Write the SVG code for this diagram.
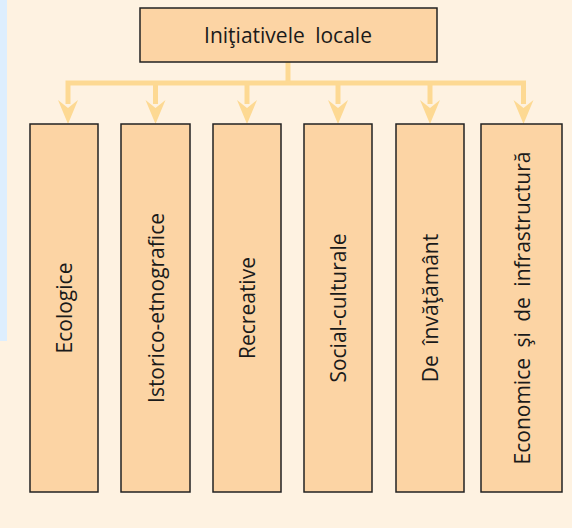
<svg xmlns="http://www.w3.org/2000/svg" width="572" height="528" viewBox="0 0 572 528">
<style>
.bg{fill:#fef2e1}
.box{fill:#fcd4a4;stroke:#222;stroke-width:1.5}
.lbl{font-family:"Open Sans","Noto Sans",sans-serif;font-size:21px;word-spacing:5px;fill:#1a1a1a;text-anchor:middle;dominant-baseline:central}
.wire{stroke:#fdd993;stroke-width:5;fill:none}
.head{fill:#fdd993}
</style>
<rect x="0" y="0" width="572" height="528" class="bg"/>
<rect x="0" y="0" width="7" height="341" fill="#ddeefe"/>
<g id="connectors">
<path class="wire" d="M288 62V83M65.5 83H526M68 83V104M155.5 83V104M247 83V104M338 83V104M430 83V104M523.5 83V104"/>
<polygon class="head" points="58,100 68,124 78,100 68,108"/>
<polygon class="head" points="145.5,100 155.5,124 165.5,100 155.5,108"/>
<polygon class="head" points="237,100 247,124 257,100 247,108"/>
<polygon class="head" points="328,100 338,124 348,100 338,108"/>
<polygon class="head" points="420,100 430,124 440,100 430,108"/>
<polygon class="head" points="513.5,100 523.5,124 533.5,100 523.5,108"/>
</g>
<g id="root">
<rect class="box" x="140" y="8" width="297" height="54"/>
<text class="lbl" x="288" y="35">Iniţiativele locale</text>
</g>
<g id="ecologice">
<rect class="box" x="30" y="124" width="68" height="368"/>
<text class="lbl" transform="translate(64,308) rotate(-90)">Ecologice</text>
</g>
<g id="istorico">
<rect class="box" x="121" y="124" width="69" height="368"/>
<text class="lbl" transform="translate(155.5,308) rotate(-90)">Istorico-etnografice</text>
</g>
<g id="recreative">
<rect class="box" x="213" y="124" width="68" height="368"/>
<text class="lbl" transform="translate(247,308) rotate(-90)">Recreative</text>
</g>
<g id="social">
<rect class="box" x="304" y="124" width="68" height="368"/>
<text class="lbl" transform="translate(338,308) rotate(-90)">Social-culturale</text>
</g>
<g id="invatamant">
<rect class="box" x="396" y="124" width="68" height="368"/>
<text class="lbl" transform="translate(430,308) rotate(-90)">De învăţământ</text>
</g>
<g id="economice">
<rect class="box" x="481" y="124" width="81" height="368"/>
<text class="lbl" transform="translate(521.5,308) rotate(-90)">Economice şi de infrastructură</text>
</g>
</svg>
